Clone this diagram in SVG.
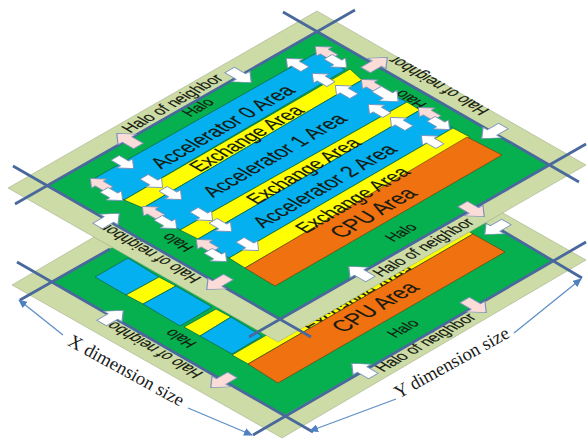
<svg xmlns="http://www.w3.org/2000/svg" width="587" height="440" viewBox="0 0 587 440">
<defs>
<style>
.lg{fill:#cddca6;stroke:#98a384;stroke-width:.5}
.dg{fill:#07b04f}
.bl{fill:#04b0f0;stroke:#0b6b45;stroke-width:.8}
.ye{fill:#ffff00;stroke:#0b6b45;stroke-width:.8}
.or{fill:#ef7110;stroke:#5a3a10;stroke-width:.6}
.ln{fill:none;stroke:#49689c;stroke-width:2.8}
.dim{fill:none;stroke:#5f8fc8;stroke-width:1.3}
.w{fill:#ffffff;stroke:#7c93b8;stroke-width:1}
.p{fill:#fbdcd9;stroke:#7c93b8;stroke-width:1}
text{font-family:"Liberation Sans",Arial,sans-serif;fill:#161a10;text-anchor:middle;stroke:#161a10;stroke-width:.15}
.h{font-size:14px}
.n{font-size:14.8px}
.a{font-size:19px}
.e{font-size:18px}
.c{font-size:20px}
.d{font-family:"Liberation Serif","Times New Roman",serif;font-size:18.6px;fill:#1a1a1a;stroke:none}
</style>
<path id="ar" d="M-12-5.5H1V-10.5L13 0 1 10.5V5.5H-12Z"/>
<marker id="tip" markerWidth="9" markerHeight="8" refX="8" refY="4" orient="auto" markerUnits="userSpaceOnUse"><path d="M0 0L9 4 0 8Z" fill="#4f80c0"/></marker>
</defs>

<g id="bottom-plate">
<polygon class="lg" points="12,285 316,107 586,260 282,438"/>
<polygon class="dg" points="52,282 320,128 553,261 285,415"/>
<polygon class="bl" points="95,277 128,258 159,277 126,295"/>
<polygon class="ye" points="126,295 159,277 176,286 143,304"/>
<polygon class="bl" points="143,304 176,286 212,307 180,326"/>
<polygon class="ye" points="184,327 216,309 231,317 200,336"/>
<polygon class="bl" points="200,336 231,317 262,336 232,354"/>
<polygon class="ye" points="232,355 458,224 473,234 248,364"/>
<text class="e" transform="matrix(.866 -.5 1 .58 364.7 301.5)">Exchange Area</text>
<polygon class="or" points="248,364 473,234 505,252 278,383"/>
<text class="c" transform="matrix(.866 -.5 1 .58 381.8 311)">CPU Area</text>
<text class="h" transform="matrix(.866 -.5 1 .58 407.8 331)">Halo</text>
<text class="n" transform="matrix(.866 -.5 1 .58 430.3 345.1)">Halo of neighbor</text>
<text class="h" transform="matrix(-.866 -.5 1 -.58 185.3 335.9)">Halo</text>
<text class="n" transform="matrix(-.866 -.5 1 -.58 157.3 345.9)">Halo of neighbor</text>
<path class="ln" d="M20 300L110 249M17 262L313 432M496 227L582 278M586 242L253 435"/>
<use href="#ar" class="w" transform="matrix(.866 -.5 .866 .5 112 317)"/>
<use href="#ar" class="p" transform="matrix(-.866 .5 .866 .5 222 381)"/>
<use href="#ar" class="w" transform="matrix(-.866 -.5 .866 -.5 363 370)"/>
<use href="#ar" class="p" transform="matrix(.866 .5 .866 -.5 475 306)"/>
<use href="#ar" class="w" transform="matrix(-.866 .5 .866 .5 496 228)"/>
</g>

<g id="top-plate">
<polygon class="lg" points="8,188 317,11 586,165 278,342"/>
<polygon class="dg" points="48,185 318,32 548,165 280,319"/>
<text class="h" transform="matrix(-.866 -.5 1 -.58 415.3 96.9)">Halo</text>
<polygon class="bl" points="95,178 318,52 345,70 124,200"/>
<polygon class="ye" points="124,200 350,69 362,80 143,208"/>
<polygon class="bl" points="143,208 362,80 407,102 180,230"/>
<polygon class="ye" points="180,230 407,102 420,110 198,239"/>
<polygon class="bl" points="198,239 420,110 453,128 229,258"/>
<polygon class="ye" points="229,258 453,128 470,137 245,268"/>
<polygon class="or" points="245,268 467,137 502,155 275,286"/>
<text class="a" transform="matrix(.866 -.5 1 .58 228.8 130.5)">Accelerator 0 Area</text>
<text class="e" transform="matrix(.866 -.5 1 .58 252.5 142)">Exchange Area</text>
<text class="a" transform="matrix(.866 -.5 1 .58 280.8 159)">Accelerator 1 Area</text>
<text class="e" transform="matrix(.866 -.5 1 .58 309.5 174.5)">Exchange Area</text>
<text class="a" transform="matrix(.866 -.5 1 .58 330.8 189.5)">Accelerator 2 Area</text>
<text class="e" transform="matrix(.866 -.5 1 .58 358.6 203.4)">Exchange Area</text>
<text class="c" transform="matrix(.866 -.5 1 .58 380 216.7)">CPU Area</text>
<text class="n" transform="matrix(.866 -.5 1 .58 177.3 106.1)">Halo of neighbor</text>
<text class="h" transform="matrix(.866 -.5 1 .58 202.8 110)">Halo</text>
<text class="h" transform="matrix(.866 -.5 1 .58 405.8 235)">Halo</text>
<text class="n" transform="matrix(.866 -.5 1 .58 428.3 250.1)">Halo of neighbor</text>
<text class="n" transform="matrix(-.866 -.5 1 -.58 443.3 82.9)">Halo of neighbor</text>
<text class="h" transform="matrix(-.866 -.5 1 -.58 182.3 239.9)">Halo</text>
<text class="n" transform="matrix(-.866 -.5 1 -.58 155.3 250.9)">Halo of neighbor</text>
<path class="ln" d="M15 204L355 10M283 12L579 182M586 144L249 337M13 166L311 337"/>
</g>

<g id="exchange-arrows">
<use href="#ar" class="w" transform="matrix(.866 .5 .866 -.5 240 76)"/>
<use href="#ar" class="p" transform="matrix(-.866 -.5 .866 -.5 128 140)"/>
<use href="#ar" class="w" transform="matrix(.74 .43 .74 -.43 124 163)"/>
<use href="#ar" class="w" transform="matrix(-.866 .5 .866 .5 493 132)"/>
<use href="#ar" class="p" transform="matrix(.866 -.5 .866 .5 376 64)"/>
<use href="#ar" class="w" transform="matrix(-.866 -.5 .866 -.5 360 273)"/>
<use href="#ar" class="p" transform="matrix(.866 .5 .866 -.5 473 210)"/>
<use href="#ar" class="w" transform="matrix(.866 -.5 .866 .5 108 220)"/>
<use href="#ar" class="p" transform="matrix(-.866 .5 .866 .5 218 283)"/>
<use href="#ar" class="p" transform="matrix(-.74 -.43 .74 -.43 100 184)"/>
<use href="#ar" class="w" transform="matrix(.74 .43 .74 -.43 113 195)"/>
<use href="#ar" class="w" transform="matrix(.74 .43 .74 -.43 153 182)"/>
<use href="#ar" class="w" transform="matrix(.74 .43 .74 -.43 172 194)"/>
<use href="#ar" class="p" transform="matrix(-.74 -.43 .74 -.43 152 212)"/>
<use href="#ar" class="w" transform="matrix(.74 .43 .74 -.43 167 223)"/>
<use href="#ar" class="w" transform="matrix(.74 .43 .74 -.43 203 215)"/>
<use href="#ar" class="w" transform="matrix(.74 .43 .74 -.43 222 226)"/>
<use href="#ar" class="p" transform="matrix(-.74 -.43 .74 -.43 206 245)"/>
<use href="#ar" class="w" transform="matrix(.74 .43 .74 -.43 217 256)"/>
<use href="#ar" class="w" transform="matrix(.74 .43 .74 -.43 249 245)"/>
<use href="#ar" class="p" transform="matrix(-.74 -.43 .74 -.43 325 52)"/>
<use href="#ar" class="w" transform="matrix(.74 .43 .74 -.43 337 62)"/>
<use href="#ar" class="w" transform="matrix(-.74 -.43 .74 -.43 296 64)"/>
<use href="#ar" class="w" transform="matrix(-.74 -.43 .74 -.43 322 79)"/>
<use href="#ar" class="w" transform="matrix(-.74 -.43 .74 -.43 345 91)"/>
<use href="#ar" class="p" transform="matrix(-.74 -.43 .74 -.43 371 85)"/>
<use href="#ar" class="w" transform="matrix(.866 .5 .866 -.5 387 95)"/>
<use href="#ar" class="w" transform="matrix(-.74 -.43 .74 -.43 378 110)"/>
<use href="#ar" class="w" transform="matrix(-.74 -.43 .74 -.43 400 123)"/>
<use href="#ar" class="p" transform="matrix(-.74 -.43 .74 -.43 428 113)"/>
<use href="#ar" class="w" transform="matrix(.74 .43 .74 -.43 440 124)"/>
<use href="#ar" class="w" transform="matrix(-.74 -.43 .74 -.43 431 141)"/>
</g>

<g id="dimensions">
<path class="dim" marker-end="url(#tip)" d="M63 335L19 300"/>
<path class="dim" marker-end="url(#tip)" d="M188 408L252 435"/>
<path class="dim" marker-end="url(#tip)" d="M514 333L581 279"/>
<path class="dim" marker-end="url(#tip)" d="M396 399L310 431"/>
<text class="d" transform="translate(123.4 375.8) rotate(28.7)">X dimension size</text>
<text class="d" transform="translate(454.6 367.8) rotate(-29)">Y dimension size</text>
</g>
</svg>
